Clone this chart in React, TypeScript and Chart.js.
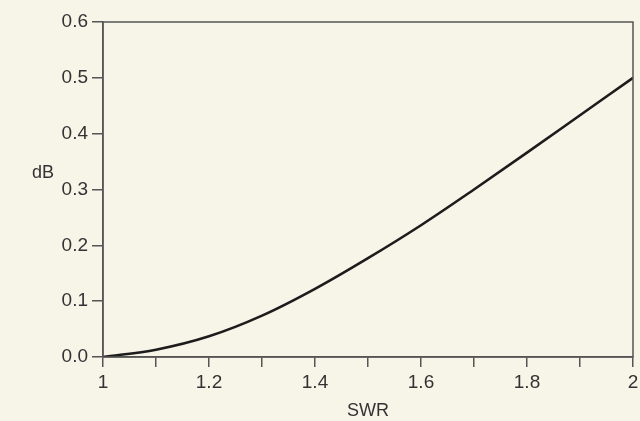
import React, { useEffect, useRef } from "react";
import { Chart, registerables } from "chart.js";

Chart.register(...registerables);

const swrValues: number[] = [1.0, 1.1, 1.2, 1.3, 1.4, 1.5, 1.6, 1.7, 1.8, 1.9, 2.0];
const dbValues: number[] = [0.0, 0.013, 0.037, 0.074, 0.122, 0.177, 0.236, 0.3, 0.366, 0.433, 0.5];
const xTitle = "SWR";
const yTitle = "dB";

const BG = "#f7f4e8";
const AXIS = "#555555";
const TEXT = "#333333";
const FONT = "'Liberation Sans', Arial, sans-serif";

const framePlugin = {
  id: "frame",
  beforeDraw(chart: any) {
    const ctx = chart.ctx;
    ctx.save();
    ctx.fillStyle = BG;
    ctx.fillRect(0, 0, chart.width, chart.height);
    ctx.restore();
  },
  afterDraw(chart: any) {
    const { ctx, chartArea } = chart;
    ctx.save();
    ctx.strokeStyle = AXIS;
    ctx.lineWidth = 1.5;
    ctx.strokeRect(chartArea.left, chartArea.top, chartArea.right - chartArea.left, chartArea.bottom - chartArea.top);
    ctx.fillStyle = TEXT;
    ctx.font = `18px ${FONT}`;
    ctx.textAlign = "center";
    ctx.textBaseline = "middle";
    ctx.fillText(xTitle, (chartArea.left + chartArea.right) / 2, 411);
    ctx.fillText(yTitle, 43, 173);
    ctx.restore();
  },
};

export default function App() {
  const ref = useRef<HTMLCanvasElement | null>(null);
  useEffect(() => {
    if (!ref.current) return;
    const chart = new Chart(ref.current, {
      type: "line",
      data: {
        datasets: [
          {
            data: swrValues.map((x, i) => ({ x, y: dbValues[i] })),
            borderColor: "#1c1c1c",
            borderWidth: 2.6,
            pointRadius: 0,
            cubicInterpolationMode: "monotone",
            fill: false,
          },
        ],
      },
      options: {
        animation: false,
        responsive: true,
        maintainAspectRatio: false,
        layout: { padding: { top: 22, right: 7, left: 0, bottom: 0 } },
        plugins: { legend: { display: false }, tooltip: { enabled: false }, title: { display: false } },
        scales: {
          x: {
            type: "linear",
            min: 1,
            max: 2,
            afterFit(scale: any) {
              scale.height = 64;
              scale.paddingRight = 0;
              scale.paddingLeft = 0;
            },
            border: { display: true, color: AXIS, width: 1.5 },
            grid: { drawOnChartArea: false, drawTicks: true, tickLength: 10, color: AXIS, lineWidth: 1.5 },
            ticks: {
              stepSize: 0.1,
              autoSkip: false,
              maxRotation: 0,
              padding: 4,
              color: TEXT,
              font: { size: 19, family: FONT },
              callback: (v: any) => {
                const n = Math.round(Number(v) * 10);
                if (n % 2 !== 0) return "";
                return String(n / 10);
              },
            },
          },
          y: {
            type: "linear",
            min: 0,
            max: 0.6,
            afterFit(scale: any) {
              scale.width = 103;
            },
            border: { display: true, color: AXIS, width: 1.5 },
            grid: { drawOnChartArea: false, drawTicks: true, tickLength: 11, color: AXIS, lineWidth: 1.5 },
            ticks: {
              stepSize: 0.1,
              padding: 4,
              color: TEXT,
              font: { size: 19, family: FONT },
              callback: (v: any) => Number(v).toFixed(1),
            },
          },
        },
      },
      plugins: [framePlugin],
    } as any);
    return () => chart.destroy();
  }, []);
  return (
    <div style={{ position: "fixed", left: 0, top: 0, width: 640, height: 421, background: BG }}>
      <canvas ref={ref} />
    </div>
  );
}
